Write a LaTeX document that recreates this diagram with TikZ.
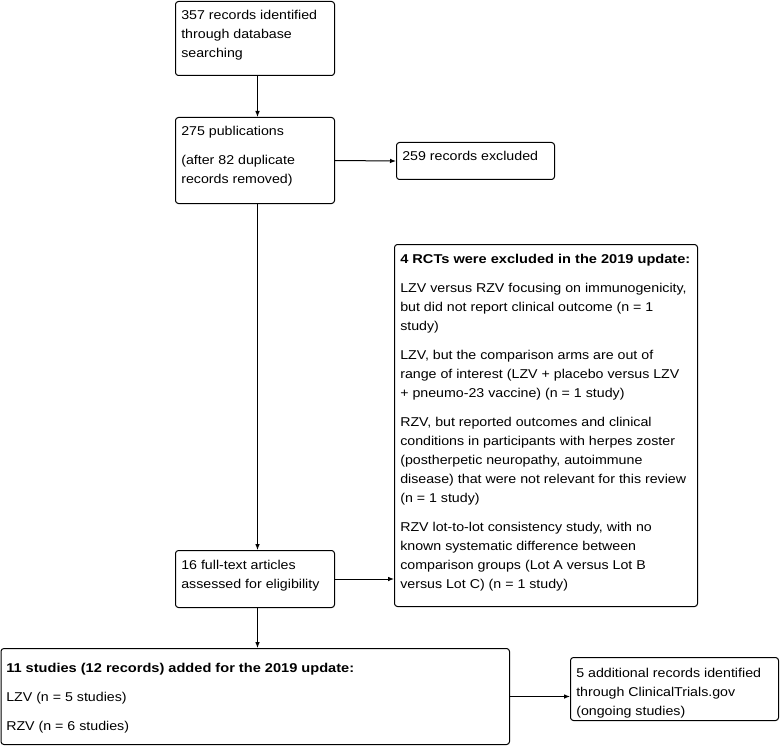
\documentclass[tikz,border=0pt]{standalone}
\usepackage{fontspec}
\setmainfont{Liberation Sans}[FakeStretch=1.11, BoldFeatures={FakeStretch=1.14}]
\usetikzlibrary{arrows.meta}
\def\u{0.75pt}
\tikzset{
  box/.style={draw, line width=0.75pt, rounded corners=2.2pt, inner sep=0pt, anchor=north west},
  txt/.style={anchor=north west, inner sep=0pt, align=left, font=\fontsize{9.6}{14.25}\selectfont},
  arr/.style={line width=0.75pt, -{Latex[length=4.5pt,width=3.5pt]}}
}
\begin{document}
\begin{tikzpicture}[x=0.75pt,y=-0.75pt]
\useasboundingbox (0,0) rectangle (780,745);
% boxes
\node[box, minimum width=159*\u, minimum height=74*\u] (b1) at (175,1) {};
\node[box, minimum width=159*\u, minimum height=86*\u] (b2) at (175,117) {};
\node[box, minimum width=158*\u, minimum height=37*\u] (b3) at (396,142) {};
\node[box, minimum width=303*\u, minimum height=362*\u] (b4) at (394,244) {};
\node[box, minimum width=159*\u, minimum height=57*\u] (b5) at (175,550) {};
\node[box, minimum width=508.5*\u, minimum height=96*\u] (b6) at (0.5,648) {};
\node[box, minimum width=208*\u, minimum height=63*\u] (b7) at (570,657) {};
% texts
\node[txt] (t1) at (181,10) {357 records identified\\through database\\searching};
\node[txt] (t2) at (181,126) {275 publications\\[7.5pt](after 82 duplicate\\records removed)};
\node[txt] (t3) at (402,151) {259 records excluded};
\node[txt] (t4) at (400,254) {\textbf{4 RCTs were excluded in the 2019 update:}\\[7.5pt]
LZV versus RZV focusing on immunogenicity,\\but did not report clinical outcome (n = 1\\study)\\[7.5pt]
LZV, but the comparison arms are out of\\range of interest (LZV + placebo versus LZV\\+ pneumo-23 vaccine) (n = 1 study)\\[7.5pt]
RZV, but reported outcomes and clinical\\conditions in participants with herpes zoster\\(postherpetic neuropathy, autoimmune\\disease) that were not relevant for this review\\(n = 1 study)\\[7.5pt]
RZV lot-to-lot consistency study, with no\\known systematic difference between\\comparison groups (Lot A versus Lot B\\versus Lot C) (n = 1 study)};
\node[txt] (t5) at (181,560) {16 full-text articles\\assessed for eligibility};
\node[txt] (t6) at (6,663) {\textbf{11 studies (12 records) added for the 2019 update:}\\[7.5pt]LZV (n = 5 studies)\\[7.5pt]RZV (n = 6 studies)};
\node[txt] (t7) at (576,668) {5 additional records identified\\through ClinicalTrials.gov\\(ongoing studies)};
% connectors
\draw[arr] ([xshift=2.5*\u]b1.south) -- ([xshift=2.5*\u]b2.north);
\draw[arr] (b2.east) -- (b3.west);
\draw[arr] ([xshift=2.5*\u]b2.south) -- ([xshift=2.5*\u]b5.north);
\draw[arr] (b5.east) -- (b4.west |- b5.east);
\draw[arr] ([xshift=2.5*\u]b5.south) -- ([xshift=2.5*\u]b6.north -| b5.south);
\draw[arr] (b6.east) -- (b7.west |- b6.east);
\end{tikzpicture}
\end{document}
